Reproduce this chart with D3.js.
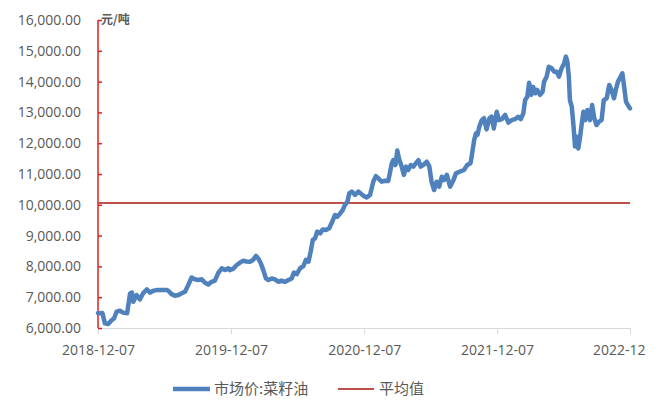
<!DOCTYPE html>
<html>
<head>
<meta charset="utf-8">
<script src="https://cdn.jsdelivr.net/npm/d3@7"></script>
<style>
  html, body { margin: 0; padding: 0; background: #fff; }
  svg { display: block; }
</style>
</head>
<body>
<svg id="chart" width="660" height="401"></svg>
<script>
const dates = [
"2018-12-07","2018-12-19","2018-12-26","2019-01-04","2019-01-14","2019-01-20","2019-01-27","2019-02-05","2019-02-14","2019-02-25",
"2019-03-05","2019-03-10","2019-03-14","2019-03-23","2019-04-01","2019-04-10","2019-04-20","2019-04-29","2019-05-08","2019-05-17",
"2019-06-14","2019-06-18","2019-06-27","2019-07-06","2019-07-16","2019-07-25","2019-08-03","2019-08-12","2019-08-21","2019-08-30",
"2019-09-08","2019-09-18","2019-09-27","2019-10-06","2019-10-15","2019-10-24","2019-11-02","2019-11-12","2019-11-21","2019-11-30",
"2019-12-04","2019-12-14","2019-12-23","2020-01-01","2020-01-10","2020-01-19","2020-01-28","2020-02-06","2020-02-14","2020-02-20",
"2020-02-27","2020-03-05","2020-03-12","2020-03-19","2020-03-28","2020-04-06","2020-04-15","2020-04-24","2020-05-04","2020-05-13",
"2020-05-22","2020-05-28","2020-06-05","2020-06-14","2020-06-23","2020-06-30","2020-07-07","2020-07-13","2020-07-19","2020-07-25",
"2020-07-31","2020-08-08","2020-08-15","2020-08-24","2020-09-02","2020-09-12","2020-09-18","2020-09-24","2020-10-02","2020-10-09",
"2020-10-15","2020-10-22","2020-10-27","2020-11-03","2020-11-12","2020-11-21","2020-11-25","2020-12-05","2020-12-14","2020-12-23",
"2021-01-01","2021-01-08","2021-01-15","2021-01-24","2021-02-02","2021-02-11","2021-02-21","2021-02-25","2021-03-03","2021-03-08",
"2021-03-13","2021-03-20","2021-03-26","2021-04-01","2021-04-07","2021-04-14","2021-04-21","2021-04-28","2021-05-05","2021-05-11",
"2021-05-18","2021-05-28","2021-06-04","2021-06-10","2021-06-17","2021-06-24","2021-07-01","2021-07-08","2021-07-14","2021-07-22",
"2021-07-31","2021-08-09","2021-08-16","2021-08-27","2021-09-07","2021-09-16","2021-09-25","2021-09-28","2021-10-05","2021-10-10",
"2021-10-14","2021-10-19","2021-10-26","2021-11-01","2021-11-08","2021-11-16","2021-11-22","2021-11-28","2021-12-06","2021-12-12",
"2021-12-20","2021-12-29","2022-01-07","2022-01-16","2022-01-25","2022-02-03","2022-02-10","2022-02-17","2022-02-22","2022-02-28",
"2022-03-05","2022-03-11","2022-03-16","2022-03-22","2022-03-27","2022-04-04","2022-04-11","2022-04-15","2022-04-22","2022-04-28",
"2022-05-06","2022-05-13","2022-05-20","2022-05-26","2022-06-02","2022-06-09","2022-06-14","2022-06-18","2022-06-22","2022-06-25",
"2022-06-30","2022-07-05","2022-07-09","2022-07-14","2022-07-18","2022-07-23","2022-07-27","2022-08-01","2022-08-06","2022-08-12",
"2022-08-19","2022-08-25","2022-08-31","2022-09-06","2022-09-13","2022-09-20","2022-09-26","2022-10-04","2022-10-11","2022-10-17",
"2022-10-24","2022-10-29","2022-11-04","2022-11-11","2022-11-16","2022-11-21","2022-11-26","2022-12-01","2022-12-07"
];
const prices = [
6480,6490,6150,6130,6260,6310,6530,6560,6500,6480,
7120,7150,6850,7070,6930,7130,7250,7150,7210,7230,
7230,7210,7100,7050,7070,7130,7180,7400,7640,7580,
7560,7580,7470,7410,7500,7540,7780,7940,7880,7940,
7880,7930,8045,8120,8185,8160,8150,8210,8340,8260,
8100,7880,7610,7560,7610,7580,7500,7540,7500,7560,
7610,7800,7750,7940,8010,8210,8150,8480,8860,8910,
9130,9070,9200,9180,9240,9500,9670,9610,9720,9830,
9990,10100,10370,10430,10320,10430,10390,10290,10240,10320,
10750,10930,10860,10750,10780,10770,11350,11450,11290,11760,
11480,11240,10970,11240,11130,11290,11240,11350,11450,11240,
11290,11400,11240,10750,10480,10750,10590,10910,10800,10970,
10590,10800,11020,11080,11130,11290,11350,11560,12100,12320,
12270,12530,12750,12810,12450,12810,12860,12480,13020,12750,
12780,12920,12670,12750,12780,12860,12780,12970,13400,13510,
13960,13570,13830,13620,13730,13570,13670,14000,14160,14480,
14430,14320,14320,14160,14430,14590,14810,14650,14160,13400,
13190,12540,11890,12210,11830,12210,12590,13020,12750,13080,
12750,13240,12810,12590,12700,12750,13400,13460,13890,13730,
13460,13730,14000,14160,14270,13830,13350,13240,13130
];
const averageValue = 10060;
const yTicks = [6000,7000,8000,9000,10000,11000,12000,13000,14000,15000,16000];
const xTickDates = ["2018-12-07","2019-12-07","2020-12-07","2021-12-07","2022-12-07"];
const xTickLabels = ["2018-12-07","2019-12-07","2020-12-07","2021-12-07","2022-12"];
const seriesName = "市场价:菜籽油";
const avgName = "平均值";
const unitLabel = "元/吨";

const parse = d3.timeParse("%Y-%m-%d");
const data = dates.map((d, i) => ({ date: parse(d), value: prices[i] }));

const svg = d3.select("#chart");
const margin = { left: 98, right: 30, top: 20, bottom: 73 };
const W = 660, H = 401;
const x = d3.scaleTime()
  .domain([parse(xTickDates[0]), parse(xTickDates[xTickDates.length - 1])])
  .range([margin.left, W - margin.right]);
const y = d3.scaleLinear().domain([6000, 16000]).range([H - margin.bottom, margin.top]);

const font = "'Open Sans', 'Noto Sans CJK SC', sans-serif";
const textColor = "#595959";

// X axis
const xAxis = svg.append("g").attr("transform", `translate(0,${y(6000)})`)
  .call(d3.axisBottom(x).tickValues(xTickDates.map(parse)).tickSize(6).tickFormat((d, i) => xTickLabels[i]));
xAxis.select(".domain").attr("stroke", "#d9d9d9").attr("stroke-width", 1);
xAxis.selectAll(".tick line").attr("stroke", "#d9d9d9");
xAxis.selectAll(".tick text").attr("fill", textColor).style("font-family", font).style("font-size", "14px").attr("dy", "1.3em");
xAxis.selectAll(".tick text").filter((d, i) => i === xTickLabels.length - 1).attr("text-anchor", "end").attr("dx", "15");

// Y axis
const yAxis = svg.append("g").attr("transform", `translate(${margin.left},0)`)
  .call(d3.axisRight(y).tickValues(yTicks).tickSize(4).tickFormat(""));
yAxis.select(".domain").attr("stroke", "#e0201f").attr("stroke-width", 1.5).attr("d", `M0,${y(6000)}V${y(16000)}`);
yAxis.selectAll(".tick line").attr("stroke", "#e0201f").attr("stroke-width", 1.5);

svg.append("g").selectAll("text").data(yTicks).join("text")
  .attr("x", 81).attr("y", d => y(d)).attr("dy", "0.35em")
  .attr("text-anchor", "end").attr("fill", textColor)
  .style("font-family", font).style("font-size", "14px")
  .text(d => d3.format(",.2f")(d));

svg.append("text").attr("x", 101).attr("y", y(16000) + 4)
  .attr("fill", textColor).style("font-family", "'Noto Sans CJK SC', sans-serif")
  .style("font-size", "12px").style("font-weight", "bold").text(unitLabel);

// Average line
svg.append("line")
  .attr("x1", x.range()[0]).attr("x2", x.range()[1])
  .attr("y1", y(averageValue)).attr("y2", y(averageValue))
  .attr("stroke", "#c0504d").attr("stroke-width", 2);

// Price line
const line = d3.line().x(d => x(d.date)).y(d => y(d.value));
svg.append("path").datum(data)
  .attr("fill", "none").attr("stroke", "#4f81bd").attr("stroke-width", 4.5)
  .attr("stroke-linejoin", "round").attr("stroke-linecap", "round")
  .attr("d", line);

// Legend
const lg = svg.append("g").attr("transform", "translate(0,389)");
lg.append("line").attr("x1", 173).attr("x2", 210).attr("y1", 0).attr("y2", 0)
  .attr("stroke", "#4f81bd").attr("stroke-width", 4.5);
lg.append("text").attr("x", 214).attr("y", 0).attr("dy", "0.35em").attr("fill", textColor)
  .style("font-family", "'Noto Sans CJK SC', sans-serif").style("font-size", "15px").text(seriesName);
lg.append("line").attr("x1", 338).attr("x2", 374).attr("y1", 0).attr("y2", 0)
  .attr("stroke", "#c0504d").attr("stroke-width", 2);
lg.append("text").attr("x", 379).attr("y", 0).attr("dy", "0.35em").attr("fill", textColor)
  .style("font-family", "'Noto Sans CJK SC', sans-serif").style("font-size", "15px").text(avgName);
</script>
</body>
</html>
